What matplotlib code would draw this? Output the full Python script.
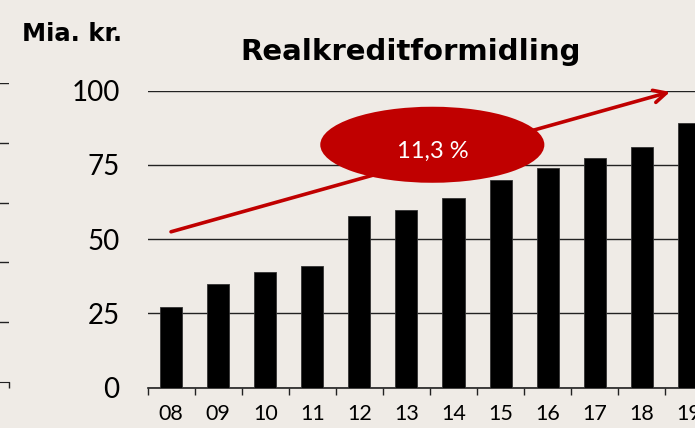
import matplotlib.pyplot as plt
from matplotlib.patches import Ellipse

# data
years = ["08", "09", "10", "11", "12", "13", "14", "15", "16", "17", "18", "19"]
values = [27.3, 35.0, 39.1, 41.1, 57.9, 59.9, 63.8, 70.1, 74.1, 77.2, 80.9, 89.0]
y_ticks = [0, 25, 50, 75, 100]
growth_label = "11,3 %"

bg = "#efebe6"
red = "#c00000"

plt.rcParams['font.family'] = ['Lato', 'DejaVu Sans']

fig = plt.figure(figsize=(6.95, 4.28), dpi=100, facecolor=bg)

# piece of the neighbouring chart visible at the left edge
ghost = fig.add_axes([-0.2, 1 - 382 / 428, 0.2 + 9 / 695, (382 - 83) / 428])
ghost.set_facecolor("none")
ghost.set_xlim(0, 1)
ghost.set_ylim(0, 5)
ghost.set_yticks([1, 2, 3, 4, 5])
ghost.grid(axis="y", color="#222222", linewidth=1)
ghost.set_xticks([1])
ghost.tick_params(axis="x", length=4.5, width=1, labelbottom=False, color="#222222")
ghost.tick_params(axis="y", length=0, labelleft=False)
for s in ["top", "left", "right"]:
    ghost.spines[s].set_visible(False)
ghost.spines["bottom"].set_color("#222222")

# main chart
ax = fig.add_axes([147.5 / 695, 1 - 387.7 / 428, 1 - 147.5 / 695, (387.7 - 90.7) / 428])
ax.set_facecolor("none")
x = list(range(len(years)))
ax.bar(x, values, width=0.47, color="black", edgecolor="#333333", linewidth=0.6, zorder=3)

ax.set_xlim(-0.5, 11.13)
ax.set_ylim(0, 100)
ax.set_yticks(y_ticks)
ax.set_yticklabels([str(v) for v in y_ticks], fontsize=20)
ax.grid(axis="y", color="#222222", linewidth=1, zorder=1)
ax.set_axisbelow(True)
ax.set_xticks(x)
ax.set_xticklabels(years, fontsize=15.5)
ax.set_xticks([i - 0.5 for i in range(len(years))], minor=True)
ax.tick_params(axis="x", which="major", length=0, pad=12)
ax.tick_params(axis="x", which="minor", length=5, width=1, color="#222222")
ax.tick_params(axis="y", length=0, pad=20)
for s in ["top", "left", "right"]:
    ax.spines[s].set_visible(False)
ax.spines["bottom"].set_color("#222222")
ax.spines["bottom"].set_linewidth(1.2)

# growth arrow and label
ax.annotate("", xy=(10.6, 99.6), xytext=(0.0, 52.5),
            arrowprops=dict(arrowstyle="->,head_length=0.9,head_width=0.45",
                            color=red, lw=2.6, shrinkA=0, shrinkB=0),
            annotation_clip=False, zorder=4)
ax.add_patch(Ellipse((5.55, 81.8), 4.76, 25.6, facecolor=red, edgecolor="none",
                     zorder=5, clip_on=False))
ax.text(5.55, 79.5, growth_label, color="white", fontsize=17,
        ha="center", va="center", zorder=6)

fig.text(411 / 695, 1 - 52 / 428, "Realkreditformidling", fontsize=21,
         fontweight="bold", ha="center", va="center", family="DejaVu Sans")
fig.text(22 / 695, 1 - 34 / 428, "Mia. kr.", fontsize=17.5, fontweight="bold",
         ha="left", va="center", family="DejaVu Sans")

fig.savefig("out.png", dpi=100, facecolor=bg)
